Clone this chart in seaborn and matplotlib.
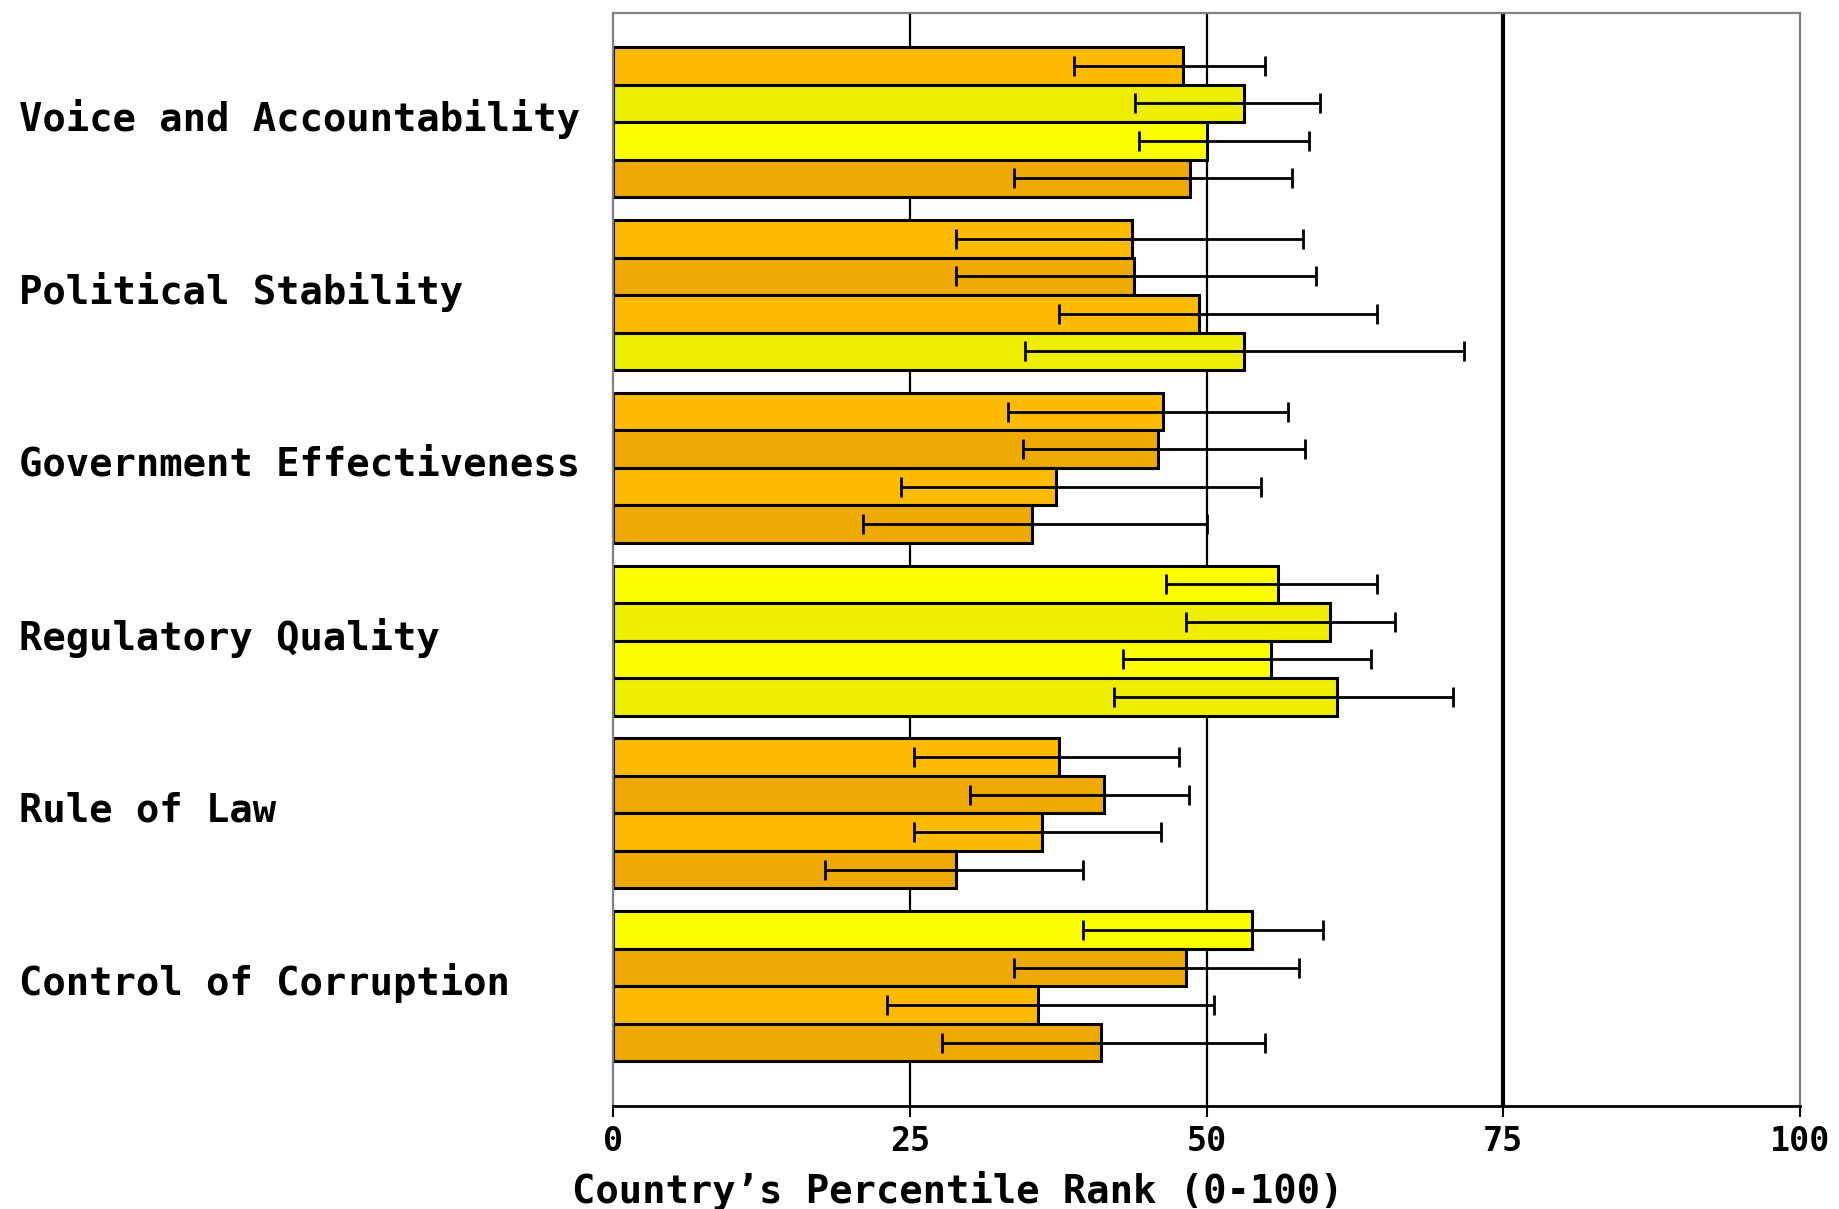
import matplotlib
matplotlib.use("Agg")
import matplotlib.pyplot as plt
import matplotlib.transforms as mtransforms
import seaborn as sns
import pandas as pd

# governance indicators, top to bottom
indicators = ["Voice and Accountability", "Political Stability",
              "Government Effectiveness", "Regulatory Quality",
              "Rule of Law", "Control of Corruption"]
periods = ["2004", "2002", "2000", "1998"]   # one bar per period, top to bottom in each group

# percentile rank (bar end)
rank_p1 = [48.0, 43.7, 46.3, 56.0, 37.6, 53.8]
rank_p2 = [53.2, 43.9, 45.9, 60.4, 41.4, 48.3]
rank_p3 = [50.0, 49.4, 37.3, 55.4, 36.1, 35.8]
rank_p4 = [48.6, 53.2, 35.3, 61.0, 28.9, 41.1]

# margin of error (lower / upper bound of the interval)
low_p1 = [38.8, 28.9, 33.3, 46.6, 25.4, 39.6]
low_p2 = [44.0, 28.9, 34.5, 48.3, 30.1, 33.8]
low_p3 = [44.3, 37.6, 24.3, 43.0, 25.4, 23.1]
low_p4 = [33.8, 34.7, 21.1, 42.2, 17.9, 27.7]
high_p1 = [54.9, 58.1, 56.9, 64.4, 47.7, 59.8]
high_p2 = [59.6, 59.2, 58.3, 65.9, 48.5, 57.8]
high_p3 = [58.6, 64.4, 54.6, 63.9, 46.2, 50.6]
high_p4 = [57.2, 71.7, 50.0, 70.8, 39.6, 54.9]

ticks = [0, 25, 50, 75, 100]

ranks = [rank_p1, rank_p2, rank_p3, rank_p4]
lows = [low_p1, low_p2, low_p3, low_p4]
highs = [high_p1, high_p2, high_p3, high_p4]

rows = []
for p, r, lo, hi in zip(periods, ranks, lows, highs):
    for ind, v, l, h in zip(indicators, r, lo, hi):
        rows.append({"indicator": ind, "period": p, "rank": v, "low": l, "high": h})
df = pd.DataFrame(rows)

# colour by rank band (below / above 50), light and dark shade alternate by row
band_colors = {"orange": ["#FFBB00", "#EEAA00"], "yellow": ["#FFFF00", "#EEEE00"]}

sns.set_theme(style="white")
plt.rcParams["font.family"] = ["DejaVu Sans Mono", "DejaVu Sans"]
plt.rcParams["font.weight"] = "bold"
plt.rcParams["text.color"] = "black"
plt.rcParams["xtick.color"] = "black"
plt.rcParams["ytick.color"] = "black"
plt.rcParams["axes.labelcolor"] = "black"

fig = plt.figure(figsize=(18.39, 12.09), dpi=100)
ax = fig.add_axes([613 / 1839, 1 - 1105.5 / 1209, 1187 / 1839, 1092.5 / 1209])

sns.barplot(data=df, y="indicator", x="rank", hue="period", order=indicators,
            hue_order=periods, orient="h", width=0.868, dodge=True,
            errorbar=None, legend=False, edgecolor="black", linewidth=2.2,
            ax=ax, zorder=2)

bar_containers = list(ax.containers)
for i, container in enumerate(bar_containers):
    sub = df[df["period"] == periods[i]].set_index("indicator").loc[indicators]
    ys = []
    for bar, v in zip(container, sub["rank"]):
        band = "yellow" if v >= 50 else "orange"
        bar.set_facecolor(band_colors[band][i % 2])
        ys.append(bar.get_y() + bar.get_height() / 2)
    ax.errorbar(sub["rank"], ys,
                xerr=[sub["rank"] - sub["low"], sub["high"] - sub["rank"]],
                fmt="none", ecolor="black", elinewidth=2, capsize=7,
                capthick=2, zorder=4)

# vertical reference lines, the 75 one heavier
for t in ticks[1:-1]:
    ax.axvline(t, color="black", lw=3 if t == 75 else 1.6, zorder=0.5)

ax.set_xlim(0, 100)
ax.set_ylim(5.69, -0.632)
ax.set_xticks(ticks)
ax.set_xticklabels([str(t) for t in ticks], fontsize=24, fontweight="bold",
                   color="black")
ax.tick_params(axis="x", direction="out", length=8, width=1.5, color="black",
               pad=6, bottom=True)
ax.tick_params(axis="y", length=0, pad=428)
lift = mtransforms.ScaledTranslation(0, 5 / 72, fig.dpi_scale_trans)
for lab in ax.get_yticklabels():
    lab.set_ha("left")
    lab.set_fontsize(28)
    lab.set_fontweight("bold")
    lab.set_color("black")
    lab.set_transform(lab.get_transform() + lift)

ax.set_ylabel("")
ax.set_xlabel("Country’s Percentile Rank (0-100)", fontsize=28,
              fontweight="bold", color="black")
ax.xaxis.set_label_coords(0.29, -0.0785)
ax.xaxis.label.set_va("center")

for side in ["top", "left", "right"]:
    ax.spines[side].set_color("#808080")
    ax.spines[side].set_linewidth(1.6)
ax.spines["bottom"].set_color("black")
ax.spines["bottom"].set_linewidth(2)

fig.savefig("out.png", dpi=100, facecolor="white")
